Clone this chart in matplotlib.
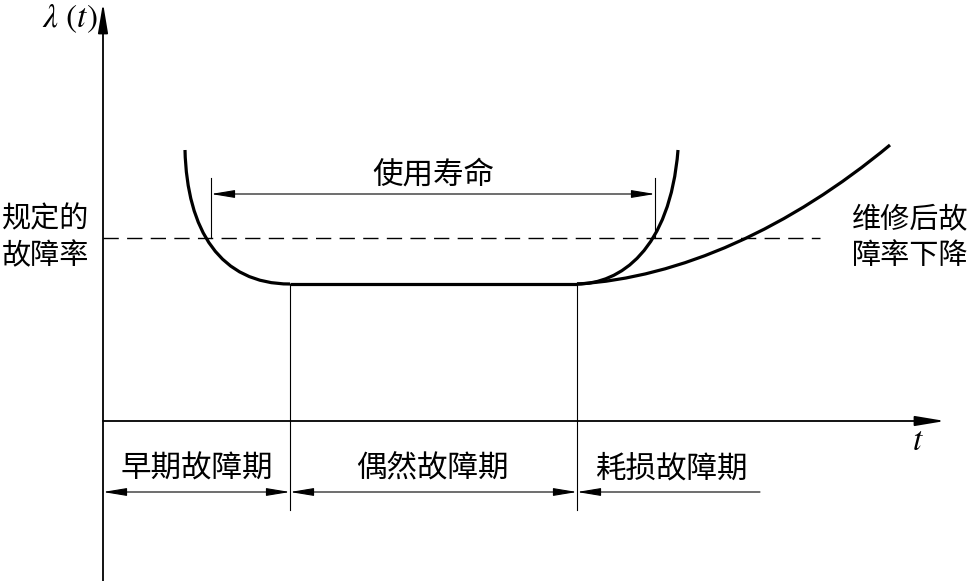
import matplotlib
matplotlib.use("Agg")
import matplotlib.pyplot as plt
from matplotlib.path import Path
from matplotlib.patches import PathPatch, FancyArrowPatch

plt.rcParams['font.family'] = ['Noto Sans CJK SC', 'DejaVu Sans']
plt.rcParams['mathtext.fontset'] = 'stix'

# Bathtub curve sketch, coordinates (pixel units, y down).
left_curve = [(185, 150), (187, 230), (220, 284), (290, 284)]
flat_x = [290, 577]
flat_y = 284
wear_curve = [(577, 284), (620, 284), (670, 250), (678, 150)]
repair_curve = [(577, 284), (680, 278), (790, 228), (890, 145)]

spec_rate_y = 238
spec_rate_x = [103, 820]

life_x = [211, 655]
life_y = 194
life_tick_top = 178

phase_bounds = [103, 290, 577, 760]
phase_y = 492
phase_labels = ["早期故障期", "偶然故障期", "耗损故障期"]
phase_label_x = [197, 432, 672]

origin = (103, 421)
x_end = 945
y_top = 3

fig = plt.figure(figsize=(9.72, 5.81), dpi=100)
ax = fig.add_axes([0, 0, 1, 1])
ax.set_xlim(0, 972)
ax.set_ylim(581, 0)
ax.axis("off")

def bezier(pts, lw):
    path = Path(pts, [Path.MOVETO, Path.CURVE4, Path.CURVE4, Path.CURVE4])
    ax.add_patch(PathPatch(path, fill=False, lw=lw, color="black", capstyle="butt"))

axis_head = "-|>,head_length=1.5,head_width=0.25"
dim_both = "<|-|>,head_length=1.45,head_width=0.24"
dim_left = "<|-,head_length=1.45,head_width=0.24"

# axes
ax.add_patch(FancyArrowPatch((origin[0], 581), (origin[0], y_top), arrowstyle=axis_head,
                             mutation_scale=12, lw=1.3, color="black", shrinkA=0, shrinkB=0))
ax.add_patch(FancyArrowPatch((origin[0], origin[1]), (x_end, origin[1]), arrowstyle=axis_head,
                             mutation_scale=12, lw=1.3, color="black", shrinkA=0, shrinkB=0))
ax.text(98, 18, r"$\lambda\ (t)$", fontsize=24, ha="right", va="center")
ax.text(918, 440, r"$t$", fontsize=24, ha="center", va="center")

# curves
bezier(left_curve, 2.3)
ax.plot(flat_x, [flat_y, flat_y], color="black", lw=2.3, solid_capstyle="butt")
bezier(wear_curve, 2.3)
bezier(repair_curve, 2.3)

# specified failure rate
ax.plot(spec_rate_x, [spec_rate_y, spec_rate_y], color="black", lw=1.0, dashes=(11, 6))
ax.text(2, 219, "规定的", fontsize=21, ha="left", va="center")
ax.text(2, 256, "故障率", fontsize=21, ha="left", va="center")
ax.text(968, 219, "维修后故", fontsize=21, ha="right", va="center")
ax.text(968, 256, "障率下降", fontsize=21, ha="right", va="center")

# service life dimension
for x in life_x:
    ax.plot([x, x], [life_tick_top, spec_rate_y], color="black", lw=0.8)
ax.add_patch(FancyArrowPatch((life_x[0], life_y), (life_x[1], life_y), arrowstyle=dim_both,
                             mutation_scale=10, lw=0.8, color="black", shrinkA=0, shrinkB=0))
ax.text(sum(life_x) / 2, 175, "使用寿命", fontsize=22, ha="center", va="center")

# phase boundaries and dimensions
for x in phase_bounds[1:3]:
    ax.plot([x, x], [flat_y, 510], color="black", lw=0.8)
for i in range(3):
    style = dim_both if i < 2 else dim_left
    ax.add_patch(FancyArrowPatch((phase_bounds[i], phase_y), (phase_bounds[i + 1], phase_y), arrowstyle=style,
                                 mutation_scale=10, lw=0.8, color="black", shrinkA=0, shrinkB=0))
    ax.text(phase_label_x[i], 469, phase_labels[i], fontsize=22, ha="center", va="center")

fig.savefig("out.png", dpi=100)
